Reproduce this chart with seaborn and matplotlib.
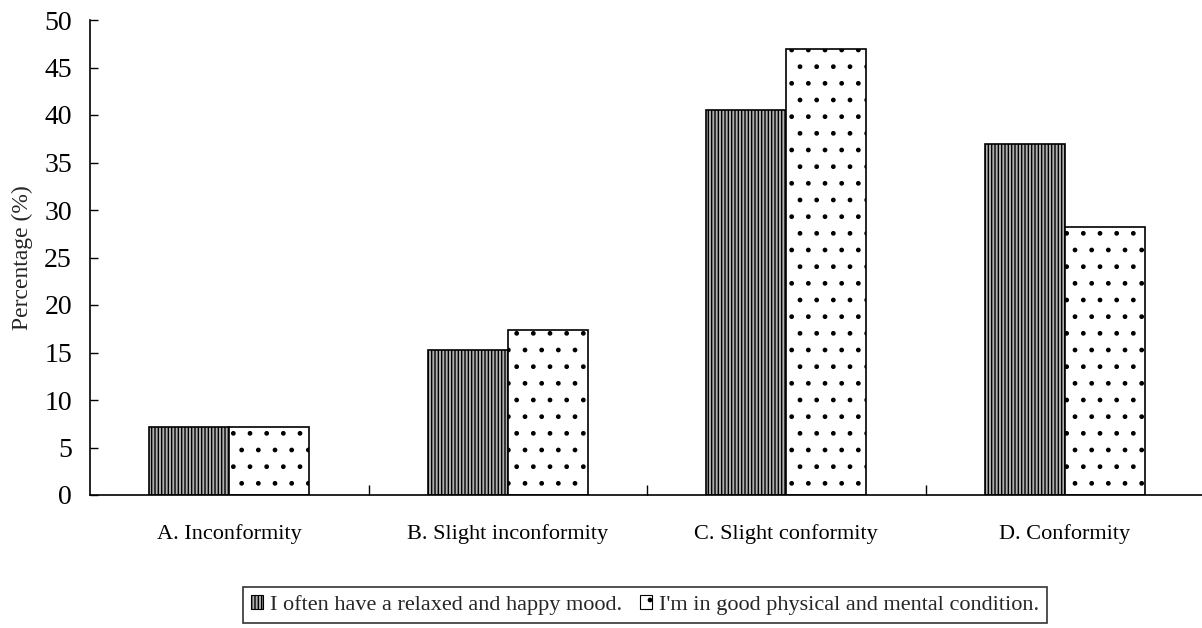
import matplotlib
matplotlib.use("Agg")
import matplotlib.pyplot as plt
import seaborn as sns
import pandas as pd
from matplotlib.patches import Patch

categories = ["A. Inconformity", "B. Slight inconformity", "C. Slight conformity", "D. Conformity"]
series_names = ["I often have a relaxed and happy mood.", "I'm in good physical and mental condition."]
relaxed = [7.2, 15.3, 40.5, 37.0]
condition = [7.2, 17.4, 47.0, 28.2]
yticks = [0, 5, 10, 15, 20, 25, 30, 35, 40, 45, 50]

df = pd.DataFrame({
    "category": categories * 2,
    "series": [series_names[0]] * 4 + [series_names[1]] * 4,
    "value": relaxed + condition,
})

sns.set_theme(style="white")
plt.rcParams["font.family"] = ["Liberation Serif", "DejaVu Serif"]
plt.rcParams["hatch.linewidth"] = 1.0

fig = plt.figure(figsize=(12.02, 6.28), dpi=100)
ax = fig.add_axes([90 / 1202, 1 - 495 / 628, 1114 / 1202, 475 / 628])

sns.barplot(data=df, x="category", y="value", hue="series", order=categories,
            hue_order=series_names, width=0.575, gap=0, palette=["white", "white"],
            edgecolor="black", linewidth=1.2, ax=ax, legend=False, saturation=1)

fills = ["#b0b0b0", "white"]
hatches = ["|||||", "."]
for cont, fc, h in zip(ax.containers, fills, hatches):
    for p in cont:
        p.set_facecolor(fc)
        p.set_hatch(h)
        p.set_edgecolor("black")

ax.set_xlim(-0.5, 3.5)
ax.set_ylim(0, 50)
ax.set_yticks(yticks)
ax.set_yticklabels([str(v) for v in yticks])
ax.set_xlabel("")
ax.set_ylabel("Percentage (%)", fontsize=17)
ax.yaxis.set_label_coords(-0.051, 0.5)

for s in ["top", "right"]:
    ax.spines[s].set_visible(False)
for s in ["left", "bottom"]:
    ax.spines[s].set_color("black")
    ax.spines[s].set_linewidth(1.2)

ax.tick_params(axis="y", direction="in", length=6, width=1, pad=13, labelsize=20, left=True, colors="black")
ax.tick_params(axis="x", which="major", length=0, pad=21, labelsize=16, colors="black")
ax.set_xticks([0.5, 1.5, 2.5], minor=True)
ax.tick_params(axis="x", which="minor", direction="in", length=7, width=1, bottom=True, color="black")

handles = [Patch(facecolor=fills[i], edgecolor="black", hatch=hatches[i], linewidth=0.8) for i in range(2)]
leg = fig.legend(handles, series_names, loc="center", bbox_to_anchor=(645 / 1202, 1 - 605 / 628),
                 ncol=2, fontsize=16, frameon=True, fancybox=False, edgecolor="black",
                 handlelength=0.55, handleheight=0.55, handletextpad=0.32, columnspacing=0.77,
                 borderpad=0.35)
leg.get_frame().set_linewidth(1.2)

fig.savefig("out.png", dpi=100, facecolor="white")
